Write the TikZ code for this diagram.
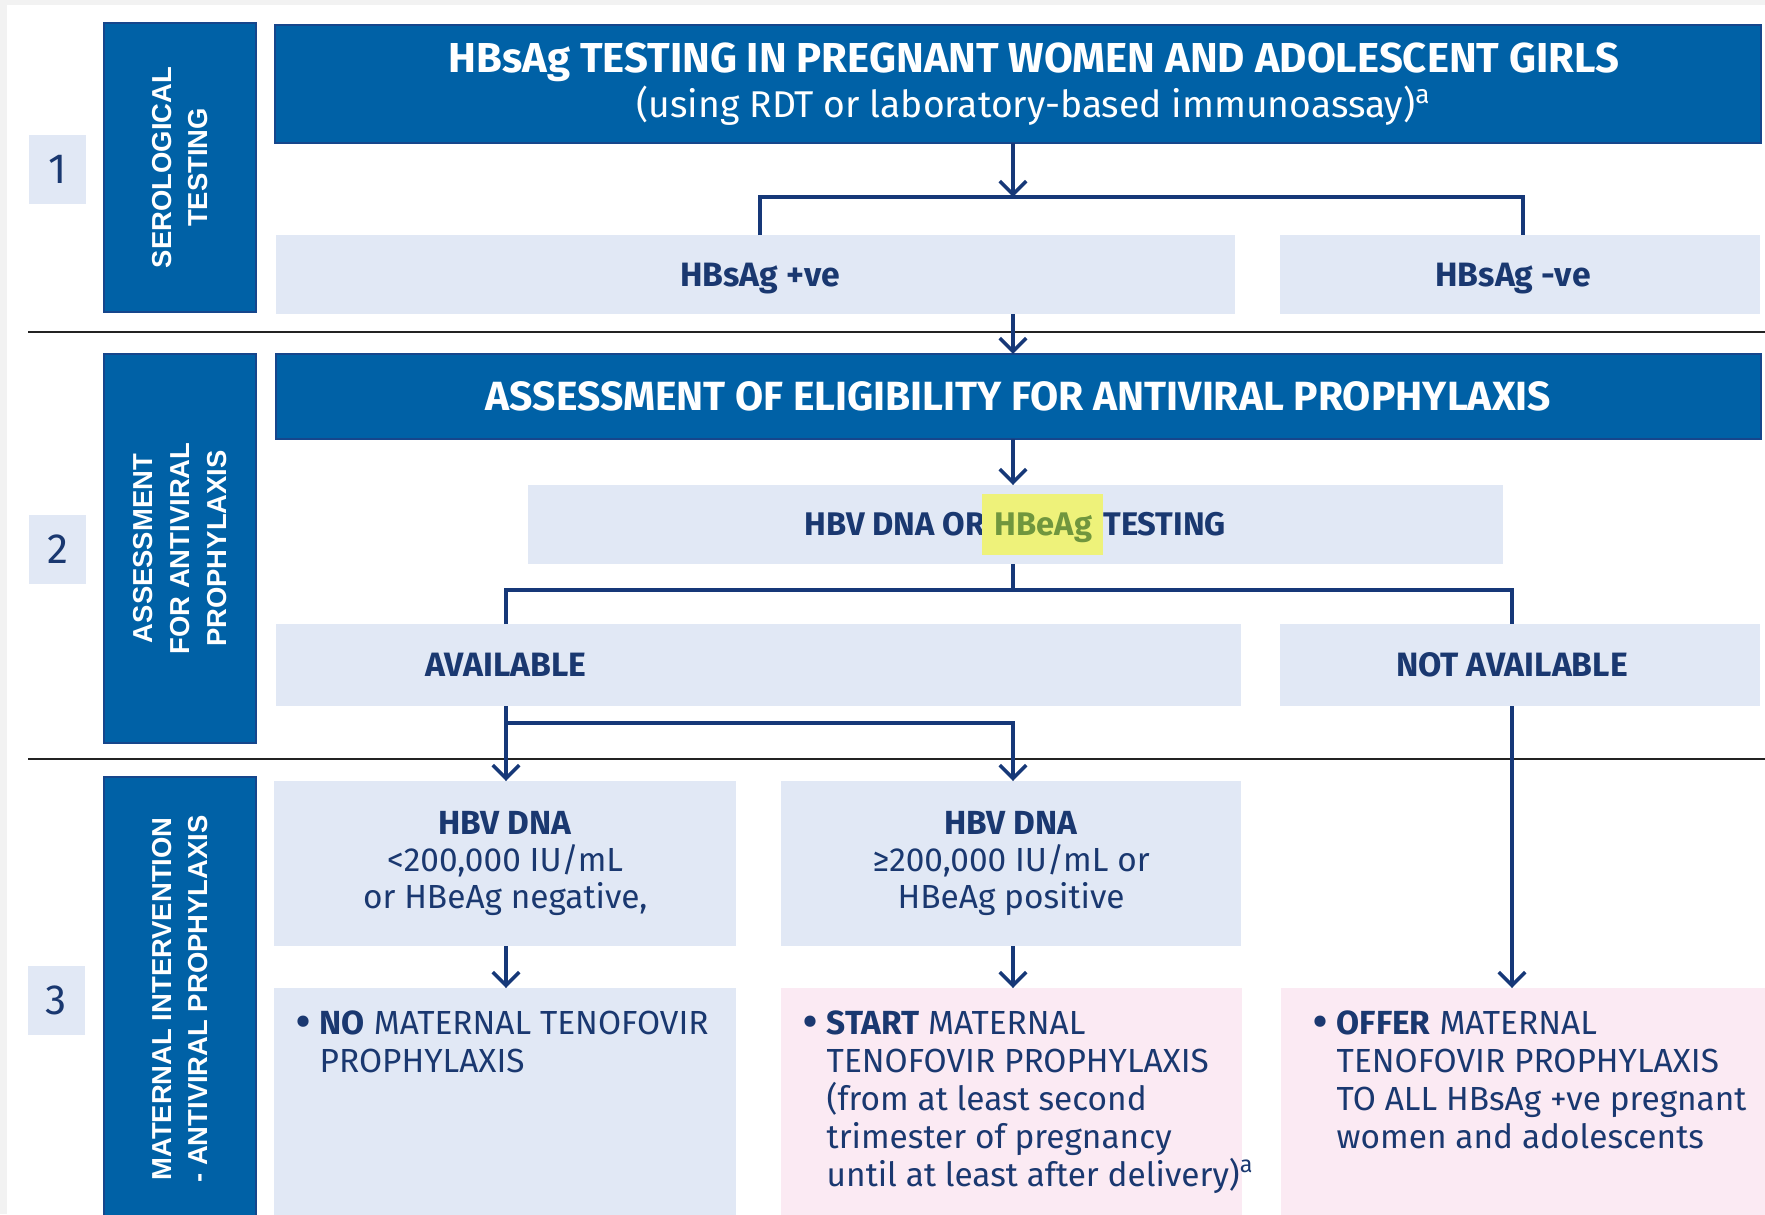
\documentclass[tikz,border=0pt]{standalone}
\usepackage{fontspec}
\setmainfont{Fira Sans}
\newfontfamily\sidefont{Liberation Sans}
\usetikzlibrary{arrows.meta}

\definecolor{whoblue}{RGB}{0,97,166}
\definecolor{whoedge}{RGB}{22,70,140}
\definecolor{paleblue}{RGB}{225,232,245}
\definecolor{palepink}{RGB}{251,234,243}
\definecolor{navy}{RGB}{26,56,112}
\definecolor{flowline}{RGB}{22,56,120}
\definecolor{marker}{RGB}{238,242,122}
\definecolor{markertext}{RGB}{112,150,62}
\definecolor{rulegrey}{RGB}{35,35,35}
\definecolor{pagegrey}{RGB}{242,242,242}

% yellow marker pen behind a word
\newcommand{\marked}[1]{{\setlength{\fboxsep}{0pt}\kern-3pt\colorbox{marker}{\rule[-5.7pt]{0pt}{17.6pt}\kern3.5pt\color{markertext}#1\kern3pt}\kern-2pt}}
\newcommand{\bul}{\llap{\raisebox{-0.4pt}{\bfseries\fontsize{11.5}{11}\selectfont\textbullet}\hspace{2.5pt}}}

\begin{document}
\begin{tikzpicture}[x=0.01cm,y=-0.01cm,
  box/.style={rectangle,inner sep=0pt,outer sep=0pt,anchor=north west},
  dark/.style={box,fill=whoblue,draw=whoedge,line width=0.4pt,text=white},
  pale/.style={box,fill=paleblue,text=navy},
  pink/.style={box,fill=palepink,text=navy},
  side/.style={dark,anchor=center,rotate=90,align=center,
    font=\sidefont\bfseries\fontsize{7.8}{10.4}\selectfont},
  stepno/.style={pale,minimum width=0.57cm,minimum height=0.69cm,
    font=\fontsize{12}{14}\selectfont},
  lbl/.style={inner sep=0pt,text=navy,text height=6.6pt,text depth=0pt,
    font=\bfseries\fontsize{9.6}{11}\selectfont},
  cond/.style={align=center,font=\fontsize{9.5}{10.5}\selectfont},
  bullets/.style={inner sep=0pt,anchor=north west,text=navy,align=left,
    font=\fontsize{9.5}{10.8}\selectfont},
  flow/.style={draw=flowline,line width=1pt},
  arr/.style={flow,-{Straight Barb[length=3.8pt,width=7.5pt]}},
  sep/.style={draw=rulegrey,line width=0.8pt}]

\fill[pagegrey] (0,0) rectangle (1765,1214);
\fill[white] (7,5) rectangle (1765,1214);
\useasboundingbox (0,0) rectangle (1765,1214);

\draw[sep] (28,332) -- (1765,332);
\draw[sep] (28,759) -- (1765,759);

% step numbers and side bars
\node[stepno] (n1) at (29,135) {1};
\node[stepno] (n2) at (29,515) {2};
\node[stepno] (n3) at (28,966) {3};
\node[side,minimum width=2.89cm,minimum height=1.52cm] (s1) at (180,167.5)
  {SEROLOGICAL\\TESTING};
\node[side,minimum width=3.89cm,minimum height=1.52cm] (s2) at (180,548.5)
  {ASSESSMENT\\FOR ANTIVIRAL\\PROPHYLAXIS};
\node[side,minimum width=4.44cm,minimum height=1.52cm] (s3) at (180,999)
  {MATERNAL INTERVENTION\\- ANTIVIRAL PROPHYLAXIS};

% step 1
\node[dark,minimum width=14.85cm,minimum height=1.18cm] (head1) at (275,25) {};
\node[align=center,text=white,inner sep=0pt,xshift=0.16cm,
  font=\fontsize{10.6}{13}\selectfont] (head1txt) at (head1.center)
  {{\bfseries\fontsize{11.9}{13}\selectfont HBsAg TESTING IN PREGNANT WOMEN AND ADOLESCENT GIRLS}\\
   (using RDT or laboratory-based immunoassay)\textsuperscript{a}};
\node[pale,minimum width=9.58cm,minimum height=0.79cm] (pos) at (276,235) {};
\node[pale,minimum width=4.80cm,minimum height=0.79cm] (neg) at (1280,235) {};

% step 2
\node[dark,minimum width=14.84cm,minimum height=0.85cm,
  font=\bfseries\fontsize{11.6}{13}\selectfont] (head2) at (276,354)
  {ASSESSMENT OF ELIGIBILITY FOR ANTIVIRAL PROPHYLAXIS};
\node[pale,minimum width=9.74cm,minimum height=0.79cm,
  font=\bfseries\fontsize{9.3}{11}\selectfont] (test) at (528,485)
  {HBV DNA OR \marked{HBeAg} TESTING};
\node[pale,minimum width=9.64cm,minimum height=0.82cm] (avail) at (276,624) {};
\node[pale,minimum width=4.80cm,minimum height=0.82cm] (notav) at (1280,624) {};

% step 3
\node[pale,cond,minimum width=4.62cm,minimum height=1.65cm] (low) at (274,781)
  {\textbf{HBV DNA}\\<200,000 IU/mL\\or HBeAg negative,};
\node[pale,cond,minimum width=4.60cm,minimum height=1.65cm] (high) at (781,781)
  {\textbf{HBV DNA}\\≥200,000 IU/mL or\\HBeAg positive};
\node[pale,minimum width=4.62cm,minimum height=2.42cm] (nomat) at (274,988) {};
\node[pink,minimum width=4.61cm,minimum height=2.42cm] (start) at (781,988) {};
\node[pink,minimum width=4.84cm,minimum height=2.42cm] (offer) at (1281,988) {};

\node[bullets,xshift=0.45cm,yshift=-0.22cm] (nomattxt) at (nomat.north west)
  {\bul\textbf{NO} MATERNAL TENOFOVIR\\PROPHYLAXIS};
\node[bullets,xshift=0.45cm,yshift=-0.22cm] (starttxt) at (start.north west)
  {\bul\textbf{START} MATERNAL\\TENOFOVIR PROPHYLAXIS\\
   (from at least second\\trimester of pregnancy\\
   until at least after delivery)\textsuperscript{a}};
\node[bullets,xshift=0.55cm,yshift=-0.22cm] (offertxt) at (offer.north west)
  {\bul\textbf{OFFER} MATERNAL\\TENOFOVIR PROPHYLAXIS\\
   TO ALL HBsAg +ve pregnant\\women and adolescents};

% branch points
\coordinate (b1) at (1013,197);
\coordinate (b1l) at (760,197);
\coordinate (b1r) at (1523,197);
\coordinate (b2) at (1013,590);
\coordinate (b2l) at (506,590);
\coordinate (b2r) at (1512,590);
\coordinate (b3) at (1013,723);

\node[lbl] (posl) at (pos.center -| b1l) {HBsAg +ve};
\node[lbl,xshift=-0.1cm] (negl) at (neg.center -| b1r) {HBsAg -ve};
\node[lbl] (availl) at (avail.center -| b2l) {AVAILABLE};
\node[lbl] (notavl) at (notav.center -| b2r) {NOT AVAILABLE};

\draw[arr] (head1.south -| b1) -- (b1);
\draw[flow] (pos.north -| b1l) |- (b1r) -- (neg.north -| b1r);
\draw[arr] (pos.south -| b1) -- (head2.north -| b1);
\draw[arr] (head2.south -| b1) -- (test.north -| b1);
\draw[flow] (test.south -| b2) -- (b2);
\draw[flow] (avail.north -| b2l) |- (b2r) -- (notav.north -| b2r);
\draw[arr] (avail.south -| b2l) -- (low.north -| b2l);
\draw[arr] (avail.south -| b2l) |- (b3) -- (high.north -| b3);
\draw[arr] (notav.south -| b2r) -- (offer.north -| b2r);
\draw[arr] (low.south -| b2l) -- (nomat.north -| b2l);
\draw[arr] (high.south -| b3) -- (start.north -| b3);
\end{tikzpicture}
\end{document}
